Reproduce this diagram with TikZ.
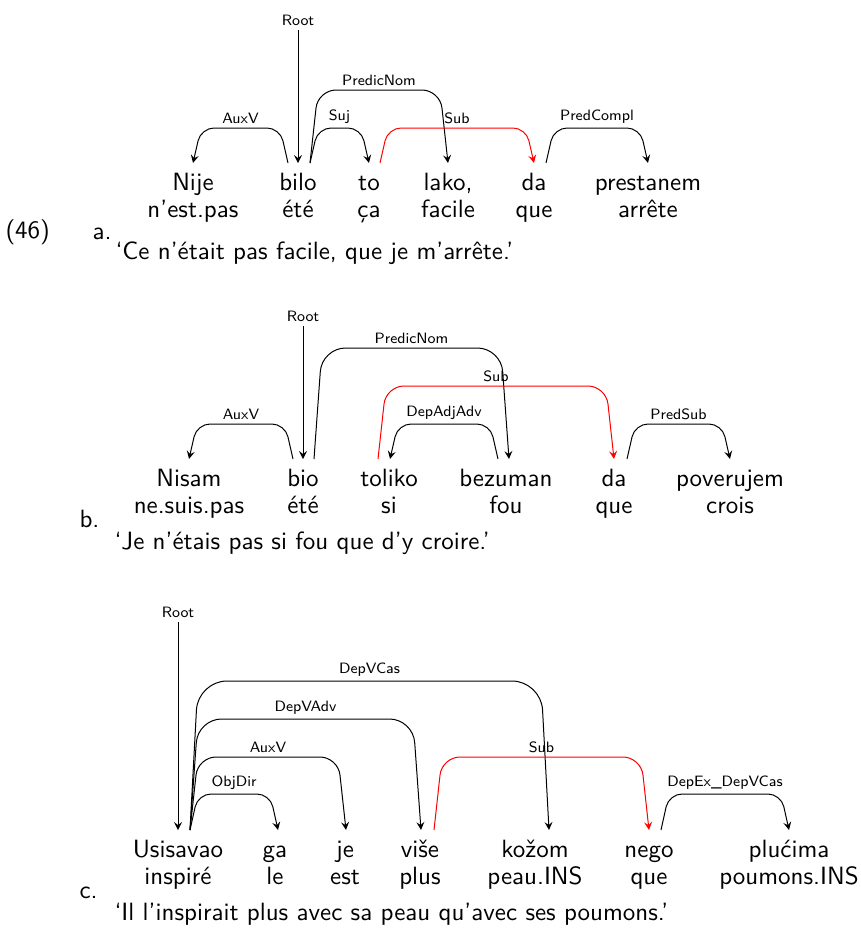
\documentclass[tikz,border=0pt]{standalone}
\usepackage{tikz}
\usetikzlibrary{arrows,calc}

% dependency arc: [colour]{from}{to}{height}{corner}{label}
\newcommand{\depedge}[6][black]{%
  \draw[deparc, #1, rounded corners=#5]
    let \p1=(#2), \p2=(#3), \n1={ifthenelse(\x2>\x1,1,-1)} in
    (\p1) -- (\x1+\n1*3.2pt, \y1+#4)
    -- node[deplabel] {#6} (\x2-\n1*3.2pt, \y1+#4) -- (\p2);
}

\begin{document}
\begin{tikzpicture}[x=0.4pt, y=-0.4pt,
    word/.style={font=\sffamily, anchor=base, inner sep=0pt, text height=7pt, text depth=2pt, outer ysep=3.8pt},
    gloss/.style={font=\sffamily, anchor=base, inner sep=0pt},
    exnum/.style={font=\sffamily, anchor=base west, inner sep=0pt},
    deparc/.style={->, >=stealth, line width=0.4pt},
    deplabel/.style={font=\sffamily\fontsize{6}{7}\selectfont, text=black, above, inner sep=1.6pt}
]
    \useasboundingbox (0,0) rectangle (861,928);

    % (46a)
    \node[exnum] (num) at (5,238) {(46)};
    \node[exnum] (la) at (92,239) {a.};
    \node[word] (a1) at (193,190) {Nije};
    \node[word] (a2) at (298,190) {bilo};
    \node[word] (a3) at (369,190) {to};
    \node[word] (a4) at (448,190) {lako,};
    \node[word] (a5) at (534,190) {da};
    \node[word] (a6) at (648,190) {prestanem};
    \node[gloss] (a1g) at (193,217) {n’est.pas};
    \node[gloss] (a2g) at (298,217) {été};
    \node[gloss] (a3g) at (369,217) {ça};
    \node[gloss] (a4g) at (448,217) {facile};
    \node[gloss] (a5g) at (534,217) {que};
    \node[gloss] (a6g) at (648,217) {arrête};
    \node[exnum] (ta) at (115,259) {‘Ce n’était pas facile, que je m’arrête.’};
    \node[deplabel, anchor=center] (aroot) at (298,20) {Root};

    \draw[deparc] (aroot) -- (a2.north);
    \depedge{$(a2.north)+(-10,0)$}{a1.north}{14pt}{5.2pt}{AuxV}
    \depedge{$(a2.north)+(12,0)$}{a3.north}{14pt}{5.2pt}{Suj}
    \depedge{$(a2.north)+(12,0)$}{a4.north}{29.2pt}{7.2pt}{PredicNom}
    \depedge[red]{$(a3.north)+(11,0)$}{a5.north}{14pt}{5.2pt}{Sub}
    \depedge{$(a5.north)+(12,0)$}{a6.north}{14pt}{5.2pt}{PredCompl}

    % (46b)
    \node[exnum] (lb) at (79,527) {b.};
    \node[word] (b1) at (189,486) {Nisam};
    \node[word] (b2) at (303,486) {bio};
    \node[word] (b3) at (389,486) {toliko};
    \node[word] (b4) at (506,486) {bezuman};
    \node[word] (b5) at (614,486) {da};
    \node[word] (b6) at (730,486) {poverujem};
    \node[gloss] (b1g) at (189,513) {ne.suis.pas};
    \node[gloss] (b2g) at (303,513) {été};
    \node[gloss] (b3g) at (389,513) {si};
    \node[gloss] (b4g) at (506,513) {fou};
    \node[gloss] (b5g) at (614,513) {que};
    \node[gloss] (b6g) at (730,513) {crois};
    \node[exnum] (tb) at (114,549) {‘Je n’étais pas si fou que d’y croire.’};
    \node[deplabel, anchor=center] (broot) at (303,316) {Root};

    \draw[deparc] (broot) -- (b2.north);
    \depedge{$(b2.north)+(-10,0)$}{b1.north}{14pt}{5.2pt}{AuxV}
    \depedge{$(b2.north)+(11,0)$}{$(b4.north)+(3,0)$}{44.4pt}{9.4pt}{PredicNom}
    \depedge[red]{$(b3.north)+(-11,0)$}{b5.north}{29.2pt}{7.2pt}{Sub}
    \depedge{$(b4.north)+(-8,0)$}{$(b3.north)+(1,0)$}{14pt}{5.2pt}{DepAdjAdv}
    \depedge{$(b5.north)+(13,0)$}{b6.north}{14pt}{5.2pt}{PredSub}

    % (46c)
    \node[exnum] (lc) at (79,898) {c.};
    \node[word] (c1) at (178,857) {Usisavao};
    \node[word] (c2) at (275,857) {ga};
    \node[word] (c3) at (345,857) {je};
    \node[word] (c4) at (420,857) {više};
    \node[word] (c5) at (535,857) {kožom};
    \node[word] (c6) at (649,857) {nego};
    \node[word] (c7) at (789,857) {plućima};
    \node[gloss] (c1g) at (178,884) {inspiré};
    \node[gloss] (c2g) at (275,884) {le};
    \node[gloss] (c3g) at (345,884) {est};
    \node[gloss] (c4g) at (420,884) {plus};
    \node[gloss] (c5g) at (535,884) {peau.INS};
    \node[gloss] (c6g) at (649,884) {que};
    \node[gloss] (c7g) at (789,884) {poumons.INS};
    \node[exnum] (tc) at (114,920) {‘Il l’inspirait plus avec sa peau qu’avec ses poumons.’};
    \node[deplabel, anchor=center] (croot) at (178,612) {Root};

    \draw[deparc] (croot) -- (c1.north);
    \depedge{$(c1.north)+(12,0)$}{$(c2.north)+(3,0)$}{14.4pt}{5.2pt}{ObjDir}
    \depedge{$(c1.north)+(12,0)$}{$(c3.north)+(1,0)$}{29.2pt}{7.2pt}{AuxV}
    \depedge{$(c1.north)+(12,0)$}{$(c4.north)+(1,0)$}{44.4pt}{9.4pt}{DepVAdv}
    \depedge{$(c1.north)+(12,0)$}{$(c5.north)+(14,0)$}{59.6pt}{11.6pt}{DepVCas}
    \depedge[red]{$(c4.north)+(14,0)$}{c6.north}{29.2pt}{7.2pt}{Sub}
    \depedge{$(c6.north)+(12,0)$}{c7.north}{14.4pt}{5.2pt}{DepEx\_DepVCas}
\end{tikzpicture}
\end{document}
